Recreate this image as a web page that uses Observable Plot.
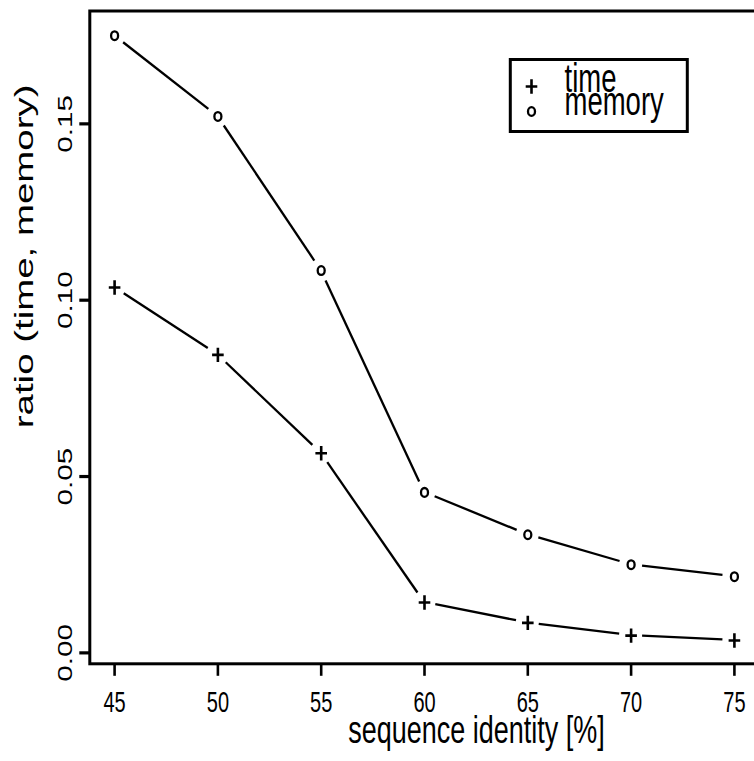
<!DOCTYPE html>
<html><head><meta charset="utf-8">
<script src="https://cdn.jsdelivr.net/npm/d3@7"></script>
<script src="https://cdn.jsdelivr.net/npm/@observablehq/plot@0.6"></script>
<style>
html,body{margin:0;padding:0;background:#fff;overflow:hidden}
#chart svg{overflow:hidden;font-family:"Liberation Sans",Arial,Helvetica,sans-serif}
</style>
</head><body><div id="chart"></div>
<script>
// ---- data ----
const identity = [45, 50, 55, 60, 65, 70, 75];
const timeRatio = [0.1036, 0.0845, 0.0566, 0.0143, 0.0085, 0.0049, 0.0035];
const memoryRatio = [0.1750, 0.1521, 0.1084, 0.0455, 0.0335, 0.0250, 0.0216];
const xTicks = [45, 50, 55, 60, 65, 70, 75];
const yTicks = [0, 0.05, 0.10, 0.15];
const yTickLabels = ["0.00", "0.05", "0.10", "0.15"];
const seriesNames = ["time", "memory"];
const xTitle = "sequence identity [%]";
const yTitle = "ratio (time, memory)";

const timeData = identity.map((x, i) => ({x, y: timeRatio[i]}));
const memData = identity.map((x, i) => ({x, y: memoryRatio[i]}));

const STRETCH = 1.45; // the reference is vertically stretched
const SVGNS = "http://www.w3.org/2000/svg";

// custom symbols (slightly taller than wide, like the reference)
const plusSym = {draw(ctx) { const h = 5.8, v = 7.2; ctx.moveTo(-h, 0); ctx.lineTo(h, 0); ctx.moveTo(0, -v); ctx.lineTo(0, v); }};
const ovalSym = {draw(ctx) {
  const rx = 3.5, ry = 4.4, k = 0.5523;
  ctx.moveTo(rx, 0);
  ctx.bezierCurveTo(rx, ry * k, rx * k, ry, 0, ry);
  ctx.bezierCurveTo(-rx * k, ry, -rx, ry * k, -rx, 0);
  ctx.bezierCurveTo(-rx, -ry * k, -rx * k, -ry, 0, -ry);
  ctx.bezierCurveTo(rx * k, -ry, rx, -ry * k, rx, 0);
  ctx.closePath();
}};

// R type="b": line segments with gaps around the points
const gappedLine = (data, gap) => (index, scales) => {
  const g = document.createElementNS(SVGNS, "g");
  for (let i = 0; i < data.length - 1; i++) {
    const x1 = scales.x(data[i].x), y1 = scales.y(data[i].y);
    const x2 = scales.x(data[i + 1].x), y2 = scales.y(data[i + 1].y);
    const dx = x2 - x1, dy = y2 - y1, len = Math.hypot(dx, dy);
    if (len <= 2 * gap) continue;
    const ux = dx / len, uy = dy / len;
    const l = document.createElementNS(SVGNS, "line");
    l.setAttribute("x1", x1 + ux * gap); l.setAttribute("y1", y1 + uy * gap);
    l.setAttribute("x2", x2 - ux * gap); l.setAttribute("y2", y2 - uy * gap);
    l.setAttribute("stroke", "black"); l.setAttribute("stroke-width", 2.3);
    l.setAttribute("stroke-linecap", "butt");
    g.appendChild(l);
  }
  return g;
};

const legendBox = (index, scales, values, dim) => {
  const r = document.createElementNS(SVGNS, "rect");
  r.setAttribute("x", dim.marginLeft + 421);
  r.setAttribute("y", dim.marginTop + 49);
  r.setAttribute("width", 177);
  r.setAttribute("height", 72);
  r.setAttribute("fill", "white");
  r.setAttribute("stroke", "black");
  r.setAttribute("stroke-width", 3);
  return r;
};

const plot = Plot.plot({
  width: 754,
  height: 761,
  marginLeft: 89.3,
  marginTop: 10.5,
  marginBottom: 97.7,
  marginRight: -4.7,
  style: {fontFamily: '"Liberation Sans", Arial, sans-serif', background: "white", overflow: "hidden"},
  x: {domain: [43.8, 76.2]},
  y: {domain: [-0.0031, 0.182]},
  marks: [
    gappedLine(timeData, 11.5),
    gappedLine(memData, 11.5),
    Plot.dot(timeData, {x: "x", y: "y", symbol: plusSym, fill: "none", stroke: "black", strokeWidth: 2.6}),
    Plot.dot(memData, {x: "x", y: "y", symbol: ovalSym, fill: "none", stroke: "black", strokeWidth: 2.3}),
    Plot.axisX({ticks: xTicks, tickSize: 12.5, strokeWidth: 2.6, tickFormat: () => "", label: null}),
    Plot.axisY({ticks: yTicks, tickSize: 10, strokeWidth: 3.2, tickFormat: () => "", label: null}),
    Plot.text(xTicks, {frameAnchor: "bottom", x: d => d, text: d => String(d), dy: 38.7, lineAnchor: "middle", textAnchor: "middle", fontSize: 20, fill: "black"}),
    Plot.text(yTicks, {frameAnchor: "left", y: d => d, text: (d, i) => yTickLabels[i], rotate: -90, dx: -23.9, lineAnchor: "middle", textAnchor: "middle", fontSize: 20.5, fill: "black"}),
    Plot.text([xTitle], {frameAnchor: "bottom", text: d => d, dx: 52, dy: 66.2, lineAnchor: "middle", textAnchor: "middle", fontSize: 27, fill: "black"}),
    Plot.text([yTitle], {frameAnchor: "left", text: d => d, rotate: -90, dx: -64.9, dy: -81, lineAnchor: "middle", textAnchor: "middle", fontSize: 26.5, fill: "black"}),
    Plot.frame({stroke: "black", strokeWidth: 3}),
    legendBox,
    Plot.dot([seriesNames[0]], {frameAnchor: "top-left", dx: 441.7, dy: 75.5, symbol: plusSym, fill: "none", stroke: "black", strokeWidth: 2.6}),
    Plot.dot([seriesNames[1]], {frameAnchor: "top-left", dx: 441.7, dy: 100.5, symbol: ovalSym, fill: "none", stroke: "black", strokeWidth: 2.3}),
    Plot.text([seriesNames[0]], {frameAnchor: "top-left", text: d => d, dx: 474.7, dy: 68.7, lineAnchor: "middle", textAnchor: "start", fontSize: 27.5, fill: "black"}),
    Plot.text([seriesNames[1]], {frameAnchor: "top-left", text: d => d, dx: 474.7, dy: 91.7, lineAnchor: "middle", textAnchor: "start", fontSize: 27.5, fill: "black"})
  ]
});
document.getElementById("chart").appendChild(plot);

// stretch every text vertically (on screen) around its anchor, as in the reference
d3.select(plot).selectAll("text").each(function() {
  const t = d3.select(this);
  if (!t.text()) return;
  const tr = t.attr("transform");
  if (tr) {
    const s = tr.includes("rotate") ? `scale(${STRETCH},1)` : `scale(1,${STRETCH})`;
    t.attr("transform", tr + " " + s);
  } else {
    const xa = t.attr("x"), ya = t.attr("y");
    const x = xa && !/em$/.test(xa) ? +xa : 0;
    const y = ya && !/em$/.test(ya) ? +ya : 0;
    if (xa && !/em$/.test(xa)) t.attr("x", null);
    if (ya && !/em$/.test(ya)) t.attr("y", null);
    t.attr("transform", `translate(${x},${y}) scale(1,${STRETCH})`);
  }
});
</script>
</body></html>
